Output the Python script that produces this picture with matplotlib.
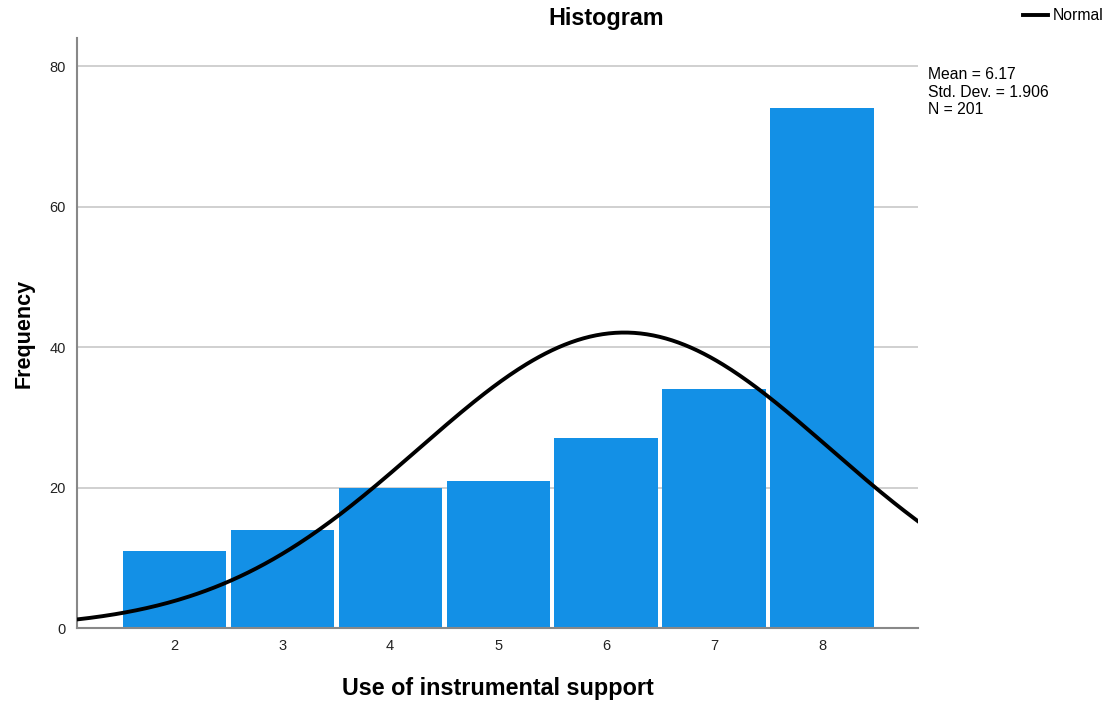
import numpy as np
import matplotlib.pyplot as plt

plt.rcParams['font.family'] = ['Liberation Sans', 'DejaVu Sans']

# histogram counts
values = [2, 3, 4, 5, 6, 7, 8]
counts = [11, 14, 20, 21, 27, 34, 74]
mean = 6.17
sd = 1.906
n = 201

fig = plt.figure(figsize=(11.07, 7.05), dpi=100)
ax = fig.add_axes([0.0696, 0.1092, 0.7597, 0.8368])

ax.bar(values, counts, width=0.955, color='#1390e6', linewidth=0, zorder=2)

# normal curve scaled to counts (bin width 1)
xs = np.linspace(1.1, 8.9, 400)
ys = n / (sd * np.sqrt(2 * np.pi)) * np.exp(-0.5 * ((xs - mean) / sd) ** 2)
ax.plot(xs, ys, color='black', lw=2.8, zorder=3, label='Normal')

ax.set_xlim(1.1, 8.89)
ax.set_ylim(0, 84)
ax.set_yticks([0, 20, 40, 60, 80])
ax.set_xticks(values)
ax.yaxis.grid(True, color='#c8c8c8', lw=1.2, zorder=0)
ax.set_axisbelow(True)
ax.tick_params(length=0, labelsize=10.5, colors='#222222', pad=8)
for s in ['top', 'right']:
    ax.spines[s].set_visible(False)
for s in ['left', 'bottom']:
    ax.spines[s].set_color('#888888')
    ax.spines[s].set_linewidth(1.5)

ax.set_xlabel('Use of instrumental support', fontsize=16.8, fontweight='bold', labelpad=17)
ax.set_ylabel('Frequency', fontsize=15.5, fontweight='bold', labelpad=11)

fig.text(606 / 1107, 1 - 18 / 705, 'Histogram', ha='center', va='center', fontsize=16.8, fontweight='bold')
fig.legend(loc='center left', bbox_to_anchor=(1023 / 1107, 1 - 16 / 705), frameon=False, fontsize=11.3,
           handlelength=1.6, handletextpad=0.3, borderaxespad=0, borderpad=0)
fig.text(928 / 1107, 1 - 67 / 705, 'Mean = %.2f\nStd. Dev. = %.3f\nN = %d' % (mean, sd, n),
         ha='left', va='top', fontsize=11.3, linespacing=1.22)

fig.savefig('out.png', dpi=100)
